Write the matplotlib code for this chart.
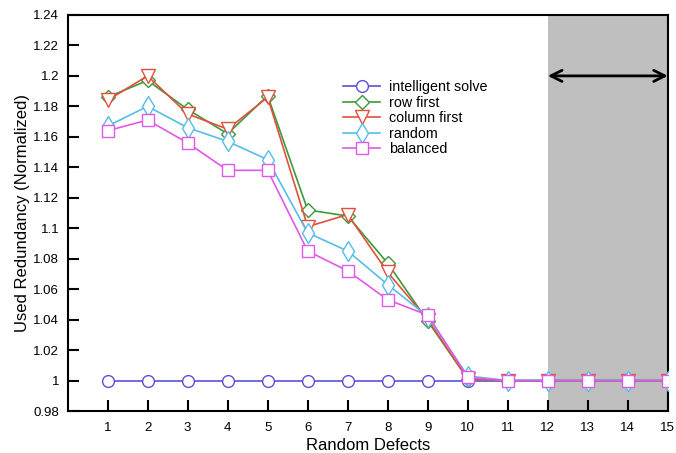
import matplotlib
matplotlib.use("Agg")
import matplotlib.pyplot as plt

plt.rcParams['font.family'] = ['Liberation Sans', 'DejaVu Sans']

defects = list(range(1, 16))
intelligent_solve = [1.0] * 15
row_first = [1.186, 1.197, 1.178, 1.162, 1.187, 1.112, 1.108, 1.077, 1.039, 1.001,
             1.0, 1.0, 1.0, 1.0, 1.0]
column_first = [1.184, 1.200, 1.175, 1.165, 1.186, 1.101, 1.109, 1.071, 1.040, 1.001,
                1.0, 1.0, 1.0, 1.0, 1.0]
random_ = [1.167, 1.180, 1.166, 1.157, 1.145, 1.097, 1.085, 1.063, 1.042, 1.003,
           1.0, 1.0, 1.0, 1.0, 1.0]
balanced = [1.164, 1.171, 1.156, 1.138, 1.138, 1.085, 1.072, 1.053, 1.043, 1.002,
            1.0, 1.0, 1.0, 1.0, 1.0]

series = [
    ("intelligent solve", intelligent_solve, "#5b4fd6", "o"),
    ("row first", row_first, "#3c9a3c", "D"),
    ("column first", column_first, "#e2503c", "v"),
    ("random", random_, "#55bde6", "d"),
    ("balanced", balanced, "#e05ae6", "s"),
]

fig = plt.figure(figsize=(6.76, 4.53), dpi=100)
ax = fig.add_axes([0.0999, 0.0927, 0.8881, 0.8743])

ax.axvspan(12, 15, color="#bfbfbf", zorder=0, lw=0)

sizes = {"o": 8.5, "D": 7, "v": 9.5, "d": 10, "s": 8}
for label, vals, color, marker in series:
    ax.plot(defects, vals, color=color, marker=marker, markersize=sizes[marker],
            markerfacecolor="white", markeredgecolor=color, markeredgewidth=1.0,
            lw=1.2, label=label, zorder=3)

ax.annotate("", xy=(15, 1.2), xytext=(12, 1.2),
            arrowprops=dict(arrowstyle="<->", color="black", lw=2,
                            mutation_scale=20, shrinkA=0, shrinkB=0), zorder=4)

ax.set_xlim(0, 15)
ax.set_ylim(0.98, 1.24)
ax.set_xticks(defects)
yt = [0.98, 1.0, 1.02, 1.04, 1.06, 1.08, 1.1, 1.12, 1.14, 1.16, 1.18, 1.2, 1.22, 1.24]
ax.set_yticks(yt)
ax.set_yticklabels([("%g" % v) for v in yt])
ax.tick_params(direction="in", length=8, width=1.5, labelsize=9.5, pad=6)
ax.tick_params(axis="x", pad=8)
for s in ax.spines.values():
    s.set_linewidth(1.5)

ax.set_xlabel("Random Defects", fontsize=12, labelpad=3)
ax.set_ylabel("Used Redundancy (Normalized)", fontsize=12, labelpad=2)

ax.legend(loc="upper left", bbox_to_anchor=(0.442, 0.86), frameon=False,
          fontsize=10.3, handlelength=2.6, labelspacing=0.1, borderpad=0.2,
          handletextpad=0.6)

fig.savefig("out.png", dpi=100)
